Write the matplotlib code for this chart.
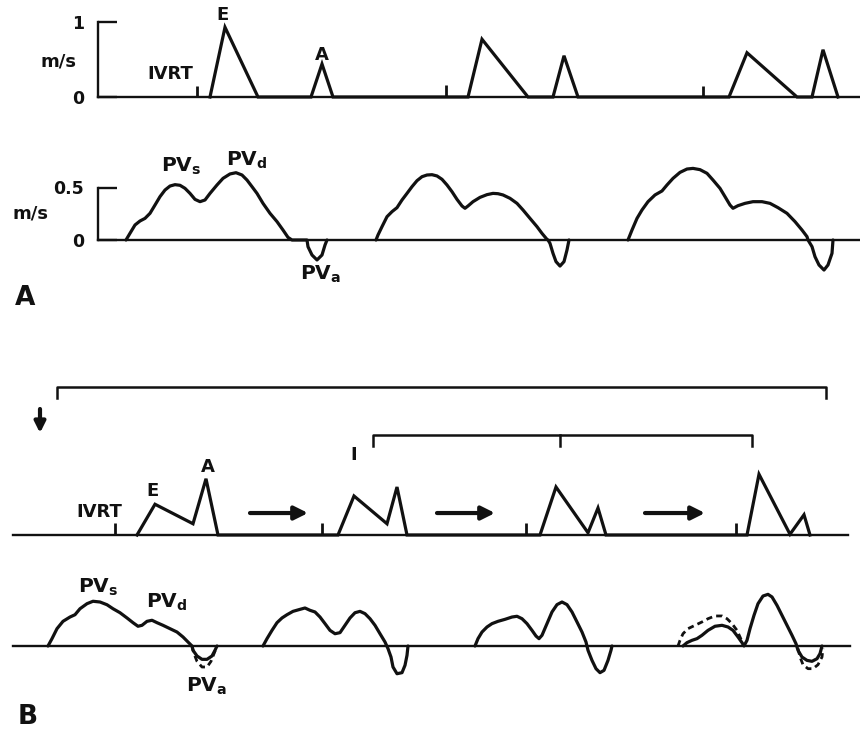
import matplotlib
matplotlib.use("Agg")
import matplotlib.pyplot as plt

# ---------------- data (time in arbitrary units, velocity in m/s) ----------------
# Panel A - mitral inflow (E and A waves)
mitA_t = [210, 225, 258, 311, 322, 333, 468, 482, 528, 553, 564, 578, 729, 747, 797, 812, 823, 838]
mitA_v = [0, 0.93, 0, 0, 0.44, 0, 0, 0.77, 0, 0, 0.55, 0, 0, 0.59, 0, 0, 0.63, 0]
ivrtA_t = [197, 446, 703]
ivrtA_h = [0.15, 0.16, 0.15]

# Panel A - pulmonary venous flow, three beats
pvA1_t = [126, 130, 135, 140, 145, 150, 155, 160, 165, 170, 175, 180, 185, 190, 195, 200, 205, 210,
          217, 223, 230, 236, 242, 247, 252, 257, 263, 270, 277, 283, 288, 292,
          307, 308, 312, 317, 322, 325, 327]
pvA1_v = [0, .064, .143, .181, .206, .254, .333, .413, .476, .514, .527, .521, .492, .444, .387, .365, .381, .444,
          .524, .587, .629, .641, .619, .571, .508, .444, .349, .254, .175, .095, .025, 0,
          0, -.064, -.143, -.19, -.143, -.048, 0]
pvA2_t = [376, 378, 382, 387, 392, 397, 402, 407, 412, 417, 422, 427, 432, 437, 442, 447, 452, 457, 462, 465,
          468, 473, 480, 487, 493, 498, 503, 510, 517, 523, 530, 537, 542, 547, 548,
          550, 553, 556, 560, 564, 567, 569]
pvA2_v = [0, .048, .127, .222, .270, .308, .381, .444, .508, .565, .603, .619, .622, .610, .578, .524, .460, .387, .324, .302,
          .324, .365, .406, .432, .444, .441, .429, .397, .349, .286, .206, .127, .063, .006, 0,
          -.032, -.127, -.206, -.248, -.206, -.095, 0]
pvA3_t = [628, 632, 637, 642, 648, 655, 662, 667, 673, 680, 687, 693, 700, 707, 713, 720, 725, 730, 733, 738,
          745, 753, 762, 770, 778, 787, 795, 802, 807, 808,
          812, 815, 819, 824, 828, 832, 833]
pvA3_v = [0, .095, .206, .286, .365, .429, .467, .524, .587, .644, .676, .682, .670, .635, .571, .492, .413, .333, .302, .327,
          .349, .365, .365, .349, .308, .254, .175, .095, .032, 0,
          -.063, -.159, -.238, -.286, -.238, -.127, 0]

# Panel B - mitral inflow, four beats
mitB_t = [137, 155, 193, 206, 218, 338, 354, 387, 397, 407, 540, 556, 588, 598, 606, 747, 759, 790, 804, 810]
mitB_v = [0, .41, .15, .75, 0, 0, .52, .15, .64, 0, 0, .64, .03, .36, 0, 0, .81, .01, .27, 0]
ivrtB_t = [115, 322, 526, 736]
ivrtB_h = [0.16, 0.16, 0.16, 0.16]

# Panel B - pulmonary venous flow, four beats
pvB1_t = [48, 52, 57, 63, 70, 75, 80, 87, 93, 100, 107, 113, 120, 127, 133, 138, 142, 147, 152, 157, 163, 170,
          177, 183, 188, 192, 193, 197, 202, 207, 212, 215, 217]
pvB1_v = [0, .070, .165, .235, .276, .298, .355, .403, .426, .419, .393, .355, .317, .267, .222, .188, .197, .235,
          .245, .222, .197, .165, .133, .086, .038, 0, -.041, -.095, -.127, -.127, -.095, -.041, 0]
pvB1d_t = [192, 194, 197, 202, 207, 211, 214, 217]
pvB1d_v = [0, -.073, -.146, -.2, -.2, -.146, -.073, 0]
pvB2_t = [263, 267, 272, 277, 282, 287, 293, 300, 305, 310, 315, 320, 325, 330, 335, 340, 345, 350, 355, 360,
          365, 370, 375, 380, 385, 388, 391, 393, 397, 402, 405, 407, 408]
pvB2_v = [0, .070, .149, .222, .267, .298, .330, .349, .362, .340, .324, .276, .213, .149, .117, .127, .197, .267,
          .317, .330, .308, .260, .197, .117, .038, -.025, -.105, -.2, -.264, -.254, -.184, -.089, 0]
pvB3_t = [475, 478, 482, 487, 492, 498, 505, 512, 517, 522, 527, 532, 536, 539, 542, 547, 552, 557, 562, 567,
          572, 577, 582, 586, 588, 592, 596, 600, 604, 608, 611, 612]
pvB3_v = [0, .070, .133, .181, .213, .235, .254, .276, .283, .260, .213, .149, .095, .070, .102, .213, .324, .394,
          .419, .394, .324, .229, .133, .038, -.041, -.137, -.216, -.254, -.232, -.137, -.041, 0]
pvB4_t = [683, 687, 692, 697, 702, 708, 715, 722, 728, 733, 738, 742, 744, 747, 750, 754, 758, 763, 768, 772,
          777, 782, 787, 792, 796, 798, 802, 807, 812, 817, 820, 822]
pvB4_v = [0, .032, .054, .070, .102, .149, .188, .197, .181, .149, .086, .032, 0, .054, .165, .292, .403, .476,
          .492, .467, .387, .292, .197, .102, .022, -.041, -.105, -.137, -.146, -.121, -.073, 0]
pvB4d_t = [678, 680, 683, 688, 695, 702, 708, 715, 722, 727, 732, 737, 740, 743]
pvB4d_v = [0, .054, .117, .165, .197, .229, .260, .286, .286, .260, .213, .149, .086, .022]
pvB4ad_t = [798, 800, 803, 808, 813, 818, 822, 823]
pvB4ad_v = [-.025, -.105, -.178, -.216, -.216, -.178, -.105, -.025]

# ---------------- figure ----------------
W, H = 860, 734
INK = "#111111"
plt.rcParams["font.family"] = ["DejaVu Sans"]
plt.rcParams["mathtext.fontset"] = "dejavusans"
fig = plt.figure(figsize=(W / 100, H / 100), dpi=100)
fig.patch.set_facecolor("white")


def band(top, bot, base, ppu, x0, x1):
    ax = fig.add_axes([0, 1 - bot / H, 1, (bot - top) / H])
    ax.set_xlim(0, W)
    ax.set_ylim((base - bot) / ppu, (base - top) / ppu)
    ax.patch.set_visible(False)
    for s in ["top", "right", "left"]:
        ax.spines[s].set_visible(False)
    ax.spines["bottom"].set_position(("data", 0))
    ax.spines["bottom"].set_bounds(x0, x1)
    ax.spines["bottom"].set_linewidth(1.7)
    ax.spines["bottom"].set_color(INK)
    ax.set_xticks([])
    ax.set_yticks([])
    return ax


def yaxis(ax, top, labels):
    sp = ax.spines["left"]
    sp.set_visible(True)
    sp.set_position(("data", 98))
    sp.set_bounds(0, top)
    sp.set_linewidth(1.7)
    sp.set_color(INK)
    ax.set_yticks([0, top])
    ax.set_yticklabels(labels, fontweight="bold", fontsize=12.5)
    ax.tick_params(axis="y", direction="in", length=14, width=1.7, pad=10, colors=INK)


TXT = dict(fontweight="bold", fontsize=13, color=INK, ha="center", va="center")
PVT = dict(fontsize=14.5, color=INK, ha="center", va="center")
LW = 2.3

# ----- Panel A, mitral -----
axA1 = band(0, 125, 97, 75, 98, 860)
yaxis(axA1, 1, ["0", "1"])
axA1.plot(mitA_t, mitA_v, color=INK, lw=LW, solid_joinstyle="miter")
axA1.vlines(ivrtA_t, 0, ivrtA_h, color=INK, lw=2)
axA1.text(58, 0.47, "m/s", **TXT)
axA1.text(223, 1.09, "E", **TXT)
axA1.text(322, 0.56, "A", **TXT)
axA1.text(170, 0.31, "IVRT", **TXT)

# ----- Panel A, pulmonary venous -----
axA2 = band(125, 300, 240, 105, 98, 860)
yaxis(axA2, 0.5, ["0", "0.5"])
for t, v in [(pvA1_t, pvA1_v), (pvA2_t, pvA2_v), (pvA3_t, pvA3_v)]:
    axA2.plot(t, v, color=INK, lw=LW, solid_capstyle="round", solid_joinstyle="round")
axA2.text(31, 0.257, "m/s", **TXT)
axA2.text(181, 0.70, r"$\mathbf{PV}_{\mathbf{s}}$", **PVT)
axA2.text(247, 0.76, r"$\mathbf{PV}_{\mathbf{d}}$", **PVT)
axA2.text(321, -0.33, r"$\mathbf{PV}_{\mathbf{a}}$", **PVT)
fig.text(25 / W, 1 - 298 / H, "A", fontsize=19, fontweight="bold", color=INK, ha="center", va="center")

# ----- Panel B, mitral -----
axB1 = band(370, 560, 535, 75, 13, 848)
axB1.plot(mitB_t, mitB_v, color=INK, lw=LW, solid_joinstyle="miter")
axB1.vlines(ivrtB_t, 0, ivrtB_h, color=INK, lw=2)
axB1.text(99, 0.307, "IVRT", **TXT)
axB1.text(152, 0.587, "E", **TXT)
axB1.text(208, 0.907, "A", **TXT)
axB1.text(354, 1.067, "I", **TXT)
for x0, x1 in [(250, 308), (437, 495), (645, 705)]:
    axB1.annotate("", xy=(x1, 0.293), xytext=(x0, 0.293),
                  arrowprops=dict(arrowstyle="-|>", lw=3, color=INK, mutation_scale=20,
                                  shrinkA=0, shrinkB=0))
axB1.annotate("", xy=(40, 1.36), xytext=(40, 1.68),
              arrowprops=dict(arrowstyle="-|>", lw=3, color=INK, mutation_scale=16,
                              shrinkA=0, shrinkB=0))
# brackets
axB1.plot([57, 57, 826, 826], [1.827, 1.973, 1.973, 1.827], color=INK, lw=1.8)
axB1.plot([373, 373, 752, 752], [1.187, 1.333, 1.333, 1.187], color=INK, lw=1.8)
axB1.plot([560, 560], [1.333, 1.187], color=INK, lw=1.8)

# ----- Panel B, pulmonary venous -----
axB2 = band(560, 734, 646, 105, 13, 850)
for t, v in [(pvB1_t, pvB1_v), (pvB2_t, pvB2_v), (pvB3_t, pvB3_v), (pvB4_t, pvB4_v)]:
    axB2.plot(t, v, color=INK, lw=LW, solid_capstyle="round", solid_joinstyle="round")
for t, v in [(pvB1d_t, pvB1d_v), (pvB4d_t, pvB4d_v), (pvB4ad_t, pvB4ad_v)]:
    axB2.plot(t, v, color=INK, lw=2, linestyle=(0, (2.2, 1.5)))
axB2.text(98, 0.56, r"$\mathbf{PV}_{\mathbf{s}}$", **PVT)
axB2.text(167, 0.419, r"$\mathbf{PV}_{\mathbf{d}}$", **PVT)
axB2.text(207, -0.381, r"$\mathbf{PV}_{\mathbf{a}}$", **PVT)
fig.text(28 / W, 1 - 717 / H, "B", fontsize=19, fontweight="bold", color=INK, ha="center", va="center")

fig.savefig("out.png", dpi=100, facecolor="white")
